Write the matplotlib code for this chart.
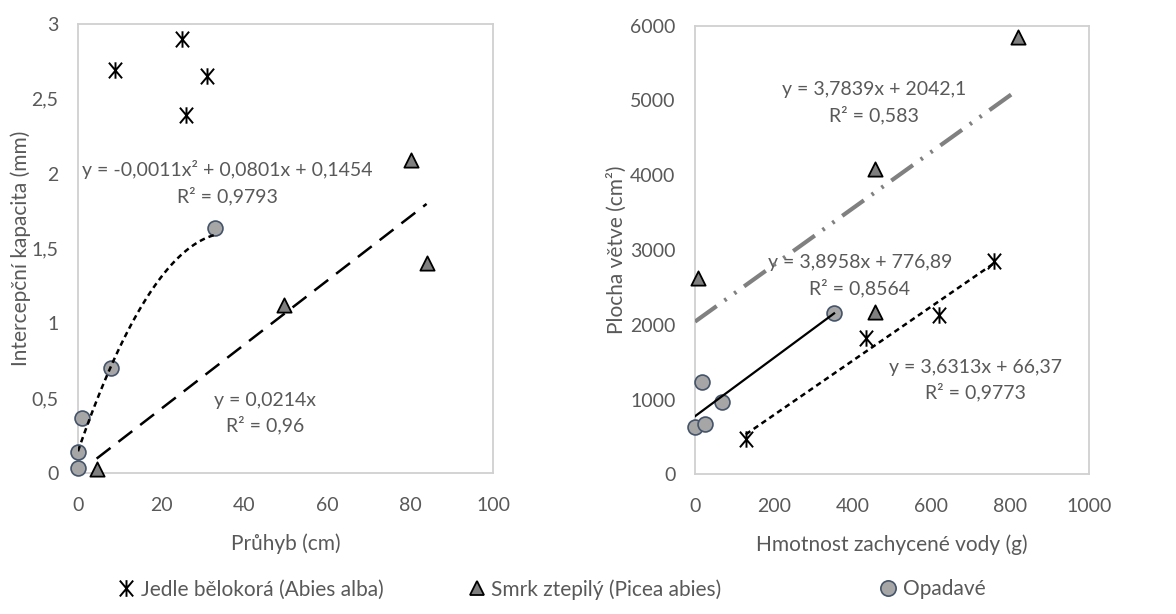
import numpy as np
import matplotlib.pyplot as plt
from matplotlib.lines import Line2D
from matplotlib.path import Path

plt.rcParams['font.family'] = ['Lato', 'DejaVu Sans']

# Průhyb (cm) vs. intercepční kapacita (mm)
jedle_pruhyb = [9, 25, 31, 26]
jedle_kapacita = [2.69, 2.90, 2.65, 2.39]
smrk_pruhyb = [4.5, 49.6, 80.2, 84]
smrk_kapacita = [0.03, 1.12, 2.09, 1.40]
opad_pruhyb = [0, 0, 1, 8, 33]
opad_kapacita = [0.035, 0.14, 0.37, 0.70, 1.64]

# Hmotnost zachycené vody (g) vs. plocha větve (cm2)
jedle_voda = [129, 435, 619, 759]
jedle_plocha = [468, 1818, 2130, 2852]
smrk_voda = [8, 457, 457, 819]
smrk_plocha = [2620, 2166, 4078, 5842]
opad_voda = [1, 25, 17, 69, 353]
opad_plocha = [628, 668, 1230, 967, 2152]

# trend line coefficients (highest power first)
fit_opad_left = [-0.0011, 0.0801, 0.1454]
fit_smrk_left = [0.0214, 0.0]
fit_jedle_right = [3.6313, 66.37]
fit_smrk_right = [3.7839, 2042.1]
fit_opad_right = [3.8958, 776.89]

TXT = '#595959'
SPINE = '#d0d0d0'
FS = 14

# X with a vertical stroke through it
star_path = Path([(0, -1), (0, 1), (-0.8, -0.95), (0.8, 0.95), (-0.8, 0.95), (0.8, -0.95)],
                 [Path.MOVETO, Path.LINETO] * 3)

star = dict(marker=star_path, s=140, color='black', linewidths=1.4, zorder=3, clip_on=False)
tri = dict(marker='^', s=105, facecolor='#7f7f7f', edgecolor='black', linewidths=1.3, zorder=3, clip_on=False)
circ = dict(marker='o', s=115, facecolor='#a6a6a6', edgecolor='#44546a', linewidths=1.2, zorder=3, clip_on=False)


def trend(ax, xs, coef, **kw):
    x = np.linspace(min(xs), max(xs), 100)
    ax.plot(x, np.polyval(coef, x), zorder=4, **kw)


def style(ax):
    for s in ax.spines.values():
        s.set_color(SPINE)
        s.set_linewidth(1.3)
    ax.tick_params(length=0, labelsize=FS, labelcolor=TXT)
    ax.tick_params(axis='y', pad=14)
    ax.tick_params(axis='x', pad=17)


fig = plt.figure(figsize=(11.76, 6.14), dpi=100)
ax1 = fig.add_axes([0.0663, 0.2296, 0.3529, 0.7314])
ax2 = fig.add_axes([0.591, 0.2275, 0.335, 0.7307])

# left panel
ax1.scatter(jedle_pruhyb, jedle_kapacita, **star)
ax1.scatter(smrk_pruhyb, smrk_kapacita, **tri)
ax1.scatter(opad_pruhyb, opad_kapacita, **circ)
trend(ax1, opad_pruhyb, fit_opad_left, color='black', lw=1.8, dashes=(2.2, 1.6))
trend(ax1, smrk_pruhyb, fit_smrk_left, color='black', lw=1.8, dashes=(7, 4))
ax1.set_xlim(0, 100)
ax1.set_ylim(0, 3)
ax1.set_xticks(np.arange(0, 101, 20))
ax1.set_yticks(np.arange(0, 3.01, 0.5))
ax1.set_yticklabels(['0', '0,5', '1', '1,5', '2', '2,5', '3'])
ax1.set_xlabel('Průhyb (cm)', fontsize=FS + 1, color=TXT, labelpad=14)
ax1.set_ylabel('Intercepční kapacita (mm)', fontsize=FS + 1, color=TXT, labelpad=0)
ax1.text(36, 1.94, 'y = -0,0011x² + 0,0801x + 0,1454\nR² = 0,9793', ha='center', va='center',
         fontsize=FS, color=TXT, linespacing=1.45)
ax1.text(45, 0.40, 'y = 0,0214x\nR² = 0,96', ha='center', va='center',
         fontsize=FS, color=TXT, linespacing=1.45)
style(ax1)

# right panel
ax2.scatter(jedle_voda, jedle_plocha, **star)
ax2.scatter(smrk_voda, smrk_plocha, **tri)
ax2.scatter(opad_voda, opad_plocha, **circ)
trend(ax2, jedle_voda, fit_jedle_right, color='black', lw=1.8, dashes=(2.2, 1.6))
trend(ax2, [0] + smrk_voda, fit_smrk_right, color='#808080', lw=3, dashes=(6.4, 2.3, 0.6, 2.3, 0.6, 2.3))
trend(ax2, [0] + opad_voda, fit_opad_right, color='black', lw=1.6)
ax2.set_xlim(0, 1000)
ax2.set_ylim(0, 6000)
ax2.set_xticks(np.arange(0, 1001, 200))
ax2.set_yticks(np.arange(0, 6001, 1000))
ax2.set_xlabel('Hmotnost zachycené vody (g)', fontsize=FS + 1, color=TXT, labelpad=14)
ax2.set_ylabel('Plocha větve (cm²)', fontsize=FS + 1, color=TXT, labelpad=2)
ax2.text(454, 4970, 'y = 3,7839x + 2042,1\nR² = 0,583', ha='center', va='center',
         fontsize=FS, color=TXT, linespacing=1.45)
ax2.text(418, 2655, 'y = 3,8958x + 776,89\nR² = 0,8564', ha='center', va='center',
         fontsize=FS, color=TXT, linespacing=1.45)
ax2.text(712, 1262, 'y = 3,6313x + 66,37\nR² = 0,9773', ha='center', va='center',
         fontsize=FS, color=TXT, linespacing=1.45)
style(ax2)

# legend, one entry per equal-width slot
entries = [
    (Line2D([], [], ls='none', marker=star_path, ms=12, color='black', mew=1.4), 'Jedle bělokorá (Abies alba)', 0.213),
    (Line2D([], [], ls='none', marker='^', ms=10, mfc='#7f7f7f', mec='black', mew=1.3), 'Smrk ztepilý (Picea abies)', 0.506),
    (Line2D([], [], ls='none', marker='o', ms=11, mfc='#a6a6a6', mec='#44546a', mew=1.2), 'Opadavé', 0.793),
]
for h, lab, xc in entries:
    lg = fig.legend([h], [lab], loc='center', bbox_to_anchor=(xc, 0.04), frameon=False,
                    fontsize=FS + 1, handlelength=0.8, handletextpad=0.3, borderpad=0)
    for t in lg.get_texts():
        t.set_color(TXT)

fig.savefig('out.png', dpi=100)
